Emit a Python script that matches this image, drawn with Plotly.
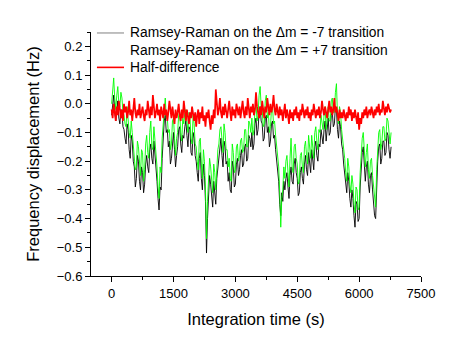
import plotly.graph_objects as go

# sampling times (s), one point every 25 s
time_s = list(range(0, 6776, 25))

# Ramsey-Raman, dm = -7 transition (Hz)
dm_minus7 = [
    -0.04, -0.01, 0.03, -0.02, -0.06, -0.03, 0.01, -0.05, -0.07, -0.02, -0.03, -0.08, -0.09, -0.12,
    -0.14, -0.07, -0.09, -0.16, -0.19, -0.11, -0.13, -0.20, -0.22, -0.29,
    -0.26, -0.18, -0.20, -0.27, -0.30, -0.22, -0.24, -0.31, -0.28, -0.21,
    -0.18, -0.22, -0.24, -0.16, -0.14, -0.19, -0.21, -0.13, -0.17, -0.22,
    -0.27, -0.33, -0.37, -0.29, -0.30, -0.19,
    -0.12, -0.06, -0.04, -0.10, -0.09, -0.15,
    -0.13, -0.21, -0.19, -0.12, -0.10, -0.16, -0.22, -0.18, -0.15, -0.09, -0.08, -0.14, -0.17, -0.11, -0.12, -0.08,
    -0.06, -0.11, -0.15, -0.08, -0.09, -0.17, -0.18, -0.10, -0.12, -0.18,
    -0.20, -0.24, -0.27, -0.19, -0.17, -0.26, -0.30, -0.21, -0.25, -0.34,
    -0.52, -0.40,
    -0.33, -0.25, -0.28, -0.34, -0.36, -0.27, -0.30, -0.35, -0.26, -0.22,
    -0.19, -0.14, -0.12, -0.18, -0.22, -0.13, -0.15, -0.21, -0.20, -0.27,
    -0.24, -0.30, -0.31, -0.20, -0.22, -0.29, -0.28, -0.21, -0.19, -0.25,
    -0.23, -0.18, -0.16, -0.22, -0.21, -0.15, -0.14, -0.20, -0.19, -0.11, -0.12, -0.15,
    -0.10, -0.16, -0.14, -0.07, -0.05, -0.11, -0.09, -0.03, -0.01, -0.06, -0.07, -0.13,
    -0.12, -0.05, -0.04, -0.10, -0.08, -0.15, -0.13, -0.07, -0.06, -0.12, -0.11, -0.16,
    -0.20, -0.25, -0.27, -0.35,
    -0.39, -0.31, -0.34, -0.27,
    -0.30, -0.26, -0.24, -0.29, -0.33, -0.25, -0.22, -0.27, -0.28, -0.21, -0.19, -0.24, -0.26, -0.32, -0.31, -0.24,
    -0.22, -0.26, -0.28, -0.21, -0.18, -0.23, -0.25, -0.17, -0.20, -0.24,
    -0.16, -0.19, -0.23, -0.15, -0.13, -0.18, -0.20, -0.14, -0.15, -0.09, -0.11, -0.14,
    -0.09, -0.06, -0.13, -0.08, -0.05, -0.11, -0.10, -0.04, -0.03, -0.08, -0.07, -0.01, -0.02, -0.09,
    -0.12, -0.06, -0.08, -0.14, -0.16, -0.21,
    -0.24, -0.29, -0.31, -0.24, -0.27, -0.33, -0.36, -0.30,
    -0.33, -0.39, -0.43, -0.34, -0.35, -0.41, -0.40, -0.29,
    -0.22, -0.17, -0.15, -0.23,
    -0.27, -0.22, -0.20, -0.28, -0.31, -0.25, -0.24, -0.30,
    -0.34, -0.39, -0.40, -0.28,
    -0.20, -0.15, -0.14, -0.21, -0.19, -0.13,
    -0.13, -0.18, -0.17, -0.10, -0.11, -0.16, -0.19, -0.15,
]

# Ramsey-Raman, dm = +7 transition (Hz)
dm_plus7 = [
    0.00, 0.05, 0.09, 0.02, -0.02, 0.03, 0.06, 0.00, -0.01, 0.04, 0.02, -0.03, -0.04, -0.07,
    -0.08, -0.01, -0.06, -0.10, -0.12, -0.06, -0.10, -0.14, -0.17, -0.23,
    -0.22, -0.13, -0.15, -0.21, -0.25, -0.16, -0.17, -0.27, -0.23, -0.14,
    -0.11, -0.17, -0.19, -0.10, -0.06, -0.15, -0.16, -0.08, -0.12, -0.18,
    -0.22, -0.29, -0.33, -0.22, -0.24, -0.12,
    -0.07, 0.00, 0.02, -0.05, -0.05, -0.10,
    -0.09, -0.16, -0.14, -0.06, -0.05, -0.12, -0.18, -0.12, -0.10, -0.04, -0.03, -0.10, -0.13, -0.05, -0.07, -0.03,
    -0.02, -0.06, -0.10, -0.03, -0.05, -0.12, -0.14, -0.04, -0.07, -0.14,
    -0.15, -0.20, -0.23, -0.13, -0.12, -0.21, -0.26, -0.16, -0.20, -0.30,
    -0.47, -0.34,
    -0.28, -0.19, -0.22, -0.29, -0.31, -0.21, -0.24, -0.30, -0.21, -0.16,
    -0.14, -0.09, -0.08, -0.13, -0.17, -0.07, -0.10, -0.16, -0.16, -0.22,
    -0.19, -0.26, -0.27, -0.14, -0.17, -0.24, -0.23, -0.15, -0.14, -0.20,
    -0.18, -0.13, -0.12, -0.17, -0.16, -0.09, -0.09, -0.15, -0.15, -0.06, -0.07, -0.10,
    -0.05, -0.11, -0.09, -0.02, 0.00, -0.06, -0.04, 0.03, 0.06, -0.01, -0.02, -0.08,
    -0.07, 0.01, 0.03, -0.05, -0.03, -0.10, -0.08, -0.02, -0.01, -0.07, -0.06, -0.11,
    -0.15, -0.20, -0.22, -0.31,
    -0.43, -0.33, -0.30, -0.22,
    -0.26, -0.20, -0.18, -0.24, -0.29, -0.19, -0.12, -0.22, -0.24, -0.15, -0.14, -0.19, -0.21, -0.28, -0.27, -0.18,
    -0.17, -0.22, -0.24, -0.15, -0.13, -0.18, -0.21, -0.11, -0.15, -0.19,
    -0.11, -0.14, -0.19, -0.10, -0.08, -0.13, -0.16, -0.09, -0.10, -0.04, -0.06, -0.09,
    -0.04, -0.01, -0.09, -0.03, -0.01, -0.06, -0.06, 0.01, 0.02, -0.03, -0.03, 0.04, 0.07, -0.04,
    -0.07, -0.01, -0.03, -0.09, -0.12, -0.16,
    -0.19, -0.24, -0.27, -0.19, -0.22, -0.28, -0.31, -0.25,
    -0.28, -0.35, -0.38, -0.29, -0.30, -0.37, -0.36, -0.24,
    -0.17, -0.12, -0.10, -0.18,
    -0.22, -0.17, -0.14, -0.23, -0.26, -0.20, -0.19, -0.25,
    -0.29, -0.34, -0.36, -0.23,
    -0.15, -0.10, -0.09, -0.16, -0.14, -0.08,
    -0.08, -0.13, -0.12, -0.05, -0.06, -0.12, -0.14, -0.10,
]

# half-difference (Hz)
half_diff = [
    -0.02, -0.05, 0.00, -0.03, -0.06, -0.01, -0.04, 0.01, -0.03, -0.05, -0.02, -0.06, 0.00, -0.03, -0.01, -0.05,
    -0.03, 0.01, -0.04, -0.02, -0.06, -0.01, 0.02, -0.03, -0.05, -0.02, -0.04, 0.00, -0.05, -0.03, -0.01, -0.04,
    -0.06, -0.02, -0.04, 0.01, -0.03, -0.05, -0.01, -0.04, 0.03, -0.02, -0.05, -0.03, 0.00, -0.04, -0.02, -0.06,
    -0.01, -0.03, -0.05, 0.00, -0.04, -0.02, -0.06, -0.03, 0.01, -0.02, -0.05, -0.01, -0.04, -0.07, -0.02, -0.05,
    -0.03, 0.00, -0.04, -0.06, -0.02, -0.05, 0.01, -0.03, -0.06, -0.02, -0.04, -0.07, -0.03, -0.05, -0.01, -0.04,
    -0.06, -0.03, -0.08, -0.04, -0.02, -0.07, -0.03, -0.05, -0.01, -0.06, -0.04, -0.08, -0.03, -0.05, -0.02, -0.06,
    -0.09, -0.04, -0.07, -0.02, -0.05, 0.05, -0.01, -0.04, -0.02, 0.02, -0.03, -0.05, -0.01, -0.04, 0.00, -0.03,
    -0.05, -0.02, 0.01, -0.03, -0.06, -0.01, -0.04, -0.02, -0.05, 0.00, -0.03, -0.04, -0.01, -0.05, -0.02, 0.01,
    -0.03, -0.05, -0.01, -0.04, 0.02, -0.02, -0.05, -0.01, -0.03, 0.00, -0.04, -0.02, 0.04, -0.01, -0.03, -0.05,
    -0.01, -0.04, 0.01, -0.02, -0.05, -0.01, -0.03, 0.02, -0.02, -0.04, 0.00, -0.03, -0.01, 0.03, -0.02, -0.04,
    0.00, -0.03, -0.05, -0.01, -0.04, -0.02, -0.06, -0.03, 0.00, -0.05, -0.02, -0.04, -0.07, -0.02, -0.05, -0.03,
    -0.06, -0.02, -0.04, -0.01, -0.05, -0.03, -0.06, -0.02, -0.04, 0.00, -0.03, -0.05, -0.02, -0.04, -0.01, -0.05,
    -0.03, -0.06, -0.02, -0.04, 0.00, -0.03, -0.05, -0.02, -0.04, -0.01, -0.05, -0.03, 0.01, -0.02, -0.04, -0.01,
    -0.03, -0.05, -0.02, 0.01, -0.03, -0.01, -0.04, -0.02, 0.02, -0.03, -0.01, -0.04, -0.06, -0.02, -0.05, -0.03,
    -0.05, -0.02, -0.04, -0.06, -0.03, -0.05, -0.01, -0.04, -0.02, -0.06, -0.03, -0.05, -0.02, -0.04, -0.07, -0.03,
    -0.09, -0.05, -0.07, -0.03, -0.05, -0.02, -0.04, -0.01, -0.05, -0.03, -0.02, -0.04, -0.01, -0.03, -0.05, -0.02,
    -0.04, -0.01, -0.03, 0.00, -0.04, -0.02, -0.03, 0.01, -0.02, -0.04, -0.01, -0.03, 0.00, -0.02, -0.03, -0.02,
]

legend_names = [
    "Ramsey-Raman on the \u0394m = -7 transition",
    "Ramsey-Raman on the \u0394m = +7 transition",
    "Half-difference",
]

FONT = "Arial, Liberation Sans, sans-serif"

fig = go.Figure()

fig.add_trace(go.Scatter(x=time_s[:len(dm_minus7)], y=dm_minus7, mode="lines",
                         line=dict(color="black", width=0.9)))
fig.add_trace(go.Scatter(x=time_s[:len(dm_plus7)], y=dm_plus7, mode="lines",
                         line=dict(color="#00ff00", width=0.9)))
fig.add_trace(go.Scatter(x=time_s[:len(half_diff)], y=half_diff, mode="lines",
                         line=dict(color="red", width=1.7)))

# hand-placed legend (rows are tighter than plotly's own legend allows)
legend_rows_y = [0.996, 0.925, 0.855]
legend_line_cols = ["#808080", None, "red"]
for name, ly, col in zip(legend_names, legend_rows_y, legend_line_cols):
    if col:
        fig.add_shape(type="line", xref="paper", yref="paper",
                      x0=0.018, x1=0.100, y0=ly, y1=ly,
                      line=dict(color=col, width=1 if col != "red" else 1.6))
    fig.add_annotation(text=name, xref="paper", yref="paper", x=0.112, y=ly,
                       xanchor="left", yanchor="middle", showarrow=False,
                       font=dict(family=FONT, size=13.8, color="black"))

axis_common = dict(
    showline=True, linecolor="black", linewidth=1,
    ticks="outside", ticklen=5, tickcolor="black", tickwidth=1,
    showgrid=False, zeroline=False, mirror=False,
    tickfont=dict(family=FONT, size=13, color="black"),
)

fig.update_layout(
    width=463, height=350,
    margin=dict(l=91, r=42, t=32, b=74),
    paper_bgcolor="white", plot_bgcolor="white",
    font=dict(family=FONT, color="black"),
    showlegend=False,
    xaxis=dict(
        range=[-500, 7500], tickvals=[0, 1500, 3000, 4500, 6000, 7500],
        minor=dict(ticks="outside", ticklen=3, dtick=750, tick0=0, tickcolor="black"),
        title=dict(text="Integration time (s)", font=dict(size=16.5), standoff=13),
        **axis_common,
    ),
    yaxis=dict(
        range=[-0.6, 0.25], dtick=0.1, tick0=0, tickformat=".1f",
        minor=dict(ticks="outside", ticklen=3, dtick=0.05, tick0=0, tickcolor="black"),
        title=dict(text="Frequency displacement (Hz)", font=dict(size=16.5), standoff=12),
        **axis_common,
    ),
)

fig.write_html("out.html", config={"displayModeBar": False},
               post_script="document.body.style.margin='0px';")
